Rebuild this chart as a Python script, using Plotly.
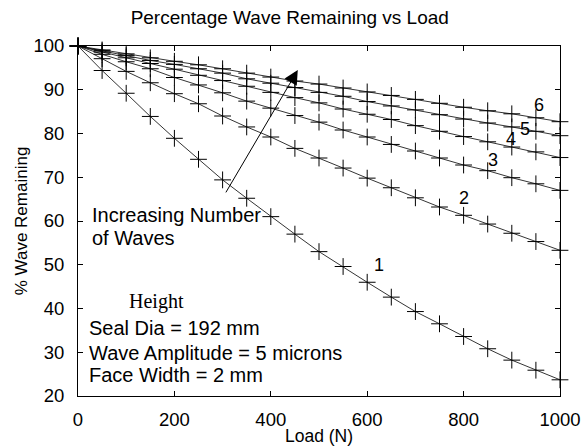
import plotly.graph_objects as go

# Load values (N) at which the wave remaining was computed
load = [0, 50, 100, 150, 200, 250, 300, 350, 400, 450, 500,
        550, 600, 650, 700, 750, 800, 850, 900, 950, 1000]

# Percentage of wave remaining for 1..6 waves
waves_1 = [100, 94.4, 89.2, 83.9, 78.9, 74.1, 69.4, 65.2, 61.0, 57.0, 53.0,
           49.6, 46.0, 42.6, 39.3, 36.5, 33.6, 30.8, 28.2, 25.9, 23.7]
waves_2 = [100, 97.1, 94.2, 91.6, 89.1, 86.8, 84.0, 81.5, 79.2, 76.6, 74.4,
           72.1, 69.8, 67.6, 65.3, 63.2, 61.3, 59.3, 57.2, 55.3, 53.3]
waves_3 = [100, 98.1, 96.4, 94.8, 92.8, 91.1, 89.3, 87.4, 85.8, 84.1, 82.6,
           80.8, 79.2, 77.5, 76.0, 74.4, 72.8, 71.5, 69.9, 68.5, 67.0]
waves_4 = [100, 98.6, 97.3, 96.0, 94.7, 93.3, 92.1, 90.8, 89.4, 88.2, 87.0,
           85.6, 84.4, 83.2, 81.8, 80.5, 79.3, 78.1, 76.9, 75.8, 74.5]
waves_5 = [100, 98.9, 97.8, 96.7, 95.8, 94.8, 93.8, 92.5, 91.5, 90.5, 89.4,
           88.5, 87.3, 86.3, 85.4, 84.3, 83.3, 82.4, 81.5, 80.5, 79.5]
waves_6 = [100, 99.1, 98.2, 97.3, 96.5, 95.7, 94.8, 93.8, 92.9, 92.0, 91.3,
           90.4, 89.5, 88.7, 87.8, 86.9, 86.0, 85.2, 84.5, 83.6, 82.7]

series = [waves_1, waves_2, waves_3, waves_4, waves_5, waves_6]
curve_names = ["1", "2", "3", "4", "5", "6"]
# where each curve's number label sits (load, %)
label_pos = [(624, 50.0), (800, 65.3), (861, 73.9), (898, 78.7), (927, 81.0), (956, 86.5)]

x_ticks = [0, 200, 400, 600, 800, 1000]
y_ticks = [20, 30, 40, 50, 60, 70, 80, 90, 100]

FONT = "Liberation Sans, Arial, sans-serif"
SERIF = "Liberation Serif, Times New Roman, serif"

fig = go.Figure()
for name, vals in zip(curve_names, series):
    fig.add_trace(go.Scatter(
        x=load, y=vals, mode="lines+markers", name=name,
        line=dict(color="black", width=0.8),
        marker=dict(symbol="cross-thin", size=12,
                    line=dict(color="black", width=1), color="black"),
        showlegend=False, cliponaxis=False,
    ))

for name, (lx, ly) in zip(curve_names, label_pos):
    fig.add_annotation(x=lx, y=ly, text=name, showarrow=False,
                       font=dict(family=FONT, size=18, color="black"))

# arrow indicating increasing number of waves
fig.add_annotation(x=456, y=94.5, ax=305, ay=66.2, xref="x", yref="y",
                   axref="x", ayref="y", text="", showarrow=True,
                   arrowhead=2, arrowsize=2.8, arrowwidth=1, arrowcolor="black")

notes = [
    (25, 61.4, "Increasing Number", FONT, "left"),
    (25, 56.1, "of Waves", FONT, "left"),
    (162, 41.5, "Height", SERIF, "center"),
    (19, 35.5, "Seal Dia = 192 mm", FONT, "left"),
    (19, 29.8, "Wave Amplitude = 5 microns", FONT, "left"),
    (19, 24.8, "Face Width = 2 mm", FONT, "left"),
]
for nx, ny, txt, fam, anchor in notes:
    fig.add_annotation(x=nx, y=ny, text=txt, showarrow=False, xanchor=anchor,
                       font=dict(family=fam, size=20, color="black"))

axis_common = dict(
    showgrid=False, zeroline=False, showline=True, linecolor="black", linewidth=1,
    mirror="ticks", ticks="inside", ticklen=5, tickcolor="black",
    tickfont=dict(family=FONT, size=18.5, color="black"), automargin=False,
)

fig.update_xaxes(range=[0, 1000], tickvals=x_ticks, ticklabelstandoff=7,
                 title=dict(text="Load (N)", font=dict(family=FONT, size=17.5, color="black"), standoff=2),
                 **axis_common)
fig.update_yaxes(range=[20, 100], tickvals=y_ticks, ticklabelstandoff=9,
                 title=dict(text="% Wave Remaining", font=dict(family=FONT, size=17, color="black"), standoff=1),
                 **axis_common)

fig.update_layout(
    width=583, height=446,
    margin=dict(l=78, r=23, t=46, b=50),
    paper_bgcolor="white", plot_bgcolor="white",
    title=dict(text="Percentage Wave Remaining vs Load", x=0.497, xanchor="center",
               y=0.96, yanchor="middle",
               font=dict(family=FONT, size=19, color="black")),
)

fig.write_html("out.html")
